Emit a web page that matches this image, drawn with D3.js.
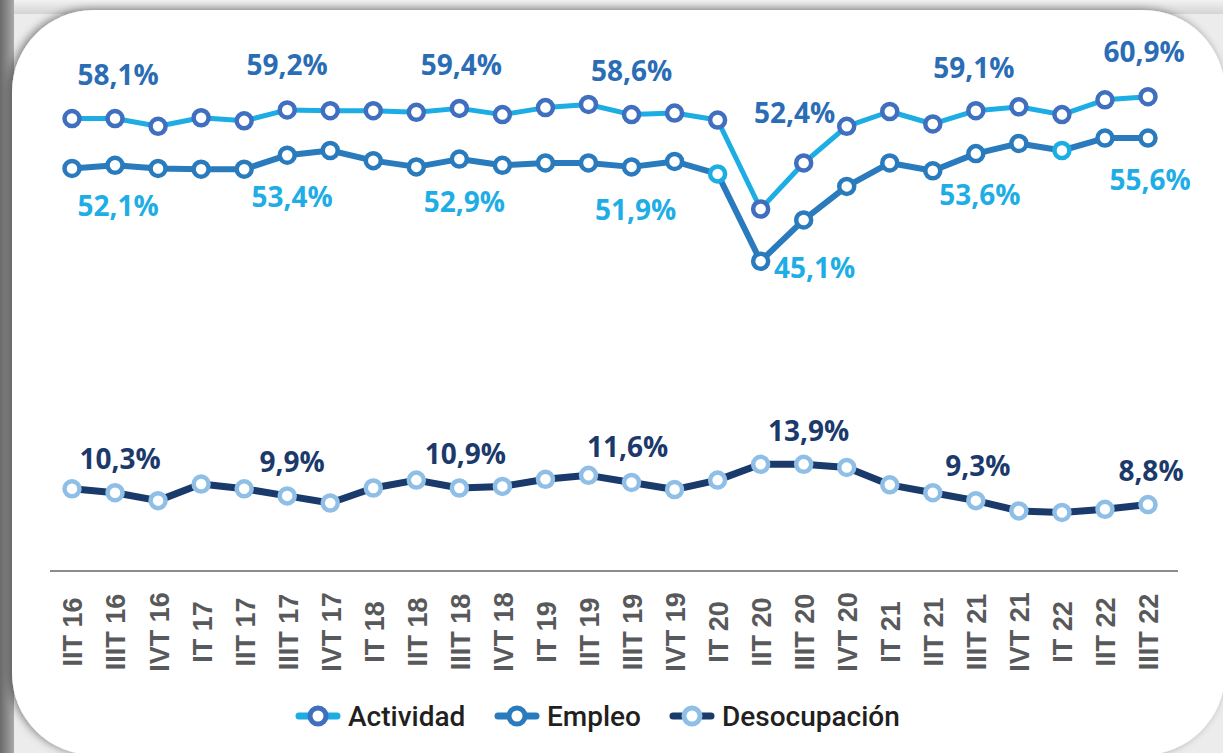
<!DOCTYPE html>
<html>
<head>
<meta charset="utf-8">
<script src="https://cdn.jsdelivr.net/npm/d3@7"></script>
<style>
  html, body { margin: 0; padding: 0; background: #ececec; }
  svg { display: block; }
</style>
</head>
<body>
<div id="chart"></div>
<script>
'use strict';

// trimestres
var categories = ['IIT 16', 'IIIT 16', 'IVT 16', 'IT 17', 'IIT 17', 'IIIT 17', 'IVT 17',
    'IT 18', 'IIT 18', 'IIIT 18', 'IVT 18', 'IT 19', 'IIT 19', 'IIIT 19', 'IVT 19',
    'IT 20', 'IIT 20', 'IIIT 20', 'IVT 20', 'IT 21', 'IIT 21', 'IIIT 21', 'IVT 21',
    'IT 22', 'IIT 22', 'IIIT 22'];

// tasas (%)
var actividad = [58.1, 58.1, 57.1, 58.2, 57.8, 59.2, 59.1, 59.1, 58.9, 59.4, 58.6, 59.5, 59.9,
    58.6, 58.8, 57.9, 46.5, 52.4, 57.1, 59.0, 57.4, 59.1, 59.6, 58.6, 60.5, 60.9];
var empleo = [51.7, 52.1, 51.7, 51.6, 51.6, 53.4, 54.0, 52.7, 51.9, 52.9, 52.1, 52.4, 52.4,
    51.9, 52.6, 51.0, 39.8, 45.1, 49.4, 52.4, 51.4, 53.6, 54.9, 54.0, 55.6, 55.6];
var desocupacion = [10.8, 10.3, 9.3, 11.4, 10.8, 9.9, 9.0, 10.9, 11.9, 10.9, 11.1, 12.0, 12.5,
    11.6, 10.7, 11.9, 13.9, 13.9, 13.5, 11.3, 10.3, 9.3, 8.0, 7.8, 8.2, 8.8];

// trimestres con etiqueta (tercer trimestre de cada año)
var labelled = ['IIIT 16', 'IIIT 17', 'IIIT 18', 'IIIT 19', 'IIIT 20', 'IIIT 21', 'IIIT 22'];
// puntos de empleo con anillo celeste
var empleoHighlight = ['IT 20', 'IT 22'];

var legendNames = ['Actividad', 'Empleo', 'Desocupación'];

var width = 1223,
    height = 753;

var colors = {
    actLine: '#1cade4',
    actRing: '#3f6fbe',
    actText: '#2a6db5',
    empLine: '#2a7bbd',
    empText: '#1fade6',
    desLine: '#193a6b',
    desRing: '#8fbfe6',
    desText: '#1b3a6b'
};

var svg = d3.select('#chart').append('svg')
    .attr('width', width)
    .attr('height', height);

var defs = svg.append('defs');

var leftGrad = defs.append('linearGradient').attr('id', 'leftGrad')
    .attr('x1', 0).attr('x2', 1).attr('y1', 0).attr('y2', 0);
leftGrad.append('stop').attr('offset', '0%').attr('stop-color', '#6a6a6a');
leftGrad.append('stop').attr('offset', '100%').attr('stop-color', '#a9a9a9');

var topGrad = defs.append('linearGradient').attr('id', 'topGrad')
    .attr('x1', 0).attr('x2', 0).attr('y1', 0).attr('y2', 1);
topGrad.append('stop').attr('offset', '0%').attr('stop-color', '#f2f2f2');
topGrad.append('stop').attr('offset', '100%').attr('stop-color', '#d4d4d4');

var shadow = defs.append('filter').attr('id', 'cardShadow')
    .attr('x', '-5%').attr('y', '-5%').attr('width', '110%').attr('height', '110%');
shadow.append('feDropShadow')
    .attr('dx', -3).attr('dy', -1)
    .attr('stdDeviation', 4)
    .attr('flood-color', '#000')
    .attr('flood-opacity', 0.45);

// fondo y tarjeta
svg.append('rect').attr('width', width).attr('height', height).attr('fill', '#ececec');
svg.append('rect').attr('width', width).attr('height', 14).attr('fill', 'url(#topGrad)');
svg.append('rect').attr('width', 14).attr('height', height).attr('fill', 'url(#leftGrad)');

svg.append('rect')
    .attr('x', 12).attr('y', 10)
    .attr('width', 1213).attr('height', 745)
    .attr('rx', 82).attr('ry', 82)
    .attr('fill', '#fff')
    .attr('filter', 'url(#cardShadow)');

var x = d3.scalePoint()
    .domain(categories)
    .range([72, 1148]);

var yTop = d3.scaleLinear()
    .domain([38, 62])
    .range([275.3, 88.1]);

var yBottom = d3.scaleLinear()
    .domain([6, 16])
    .range([526.7, 447.7]);

// eje x
svg.append('line')
    .attr('x1', 50).attr('x2', 1178)
    .attr('y1', 571).attr('y2', 571)
    .attr('stroke', '#8c8c8c')
    .attr('stroke-width', 2);

svg.append('g').attr('class', 'x-labels')
    .selectAll('text')
    .data(categories)
    .enter().append('text')
    .attr('transform', function (d) {
        return 'translate(' + (x(d) + 1) + ',632) rotate(-90)';
    })
    .attr('text-anchor', 'middle')
    .attr('dy', '0.35em')
    .style('font-family', '"Liberation Sans", Arial, sans-serif')
    .style('font-weight', 'bold')
    .style('font-size', '27px')
    .style('fill', '#58595b')
    .text(function (d) { return d; });

function drawSeries(values, yScale, lineColor, lineWidth, ringColor) {
    var pts = categories.map(function (c, i) { return { cat: c, v: values[i] }; });
    var line = d3.line()
        .x(function (d) { return x(d.cat); })
        .y(function (d) { return yScale(d.v); });

    var g = svg.append('g');
    g.append('path')
        .datum(pts)
        .attr('d', line)
        .attr('fill', 'none')
        .attr('stroke', lineColor)
        .attr('stroke-width', lineWidth)
        .attr('stroke-linejoin', 'round');

    g.selectAll('circle')
        .data(pts)
        .enter().append('circle')
        .attr('cx', function (d) { return x(d.cat); })
        .attr('cy', function (d) { return yScale(d.v); })
        .attr('r', 7.5)
        .attr('fill', '#fff')
        .attr('stroke', function (d) { return typeof ringColor === 'function' ? ringColor(d) : ringColor; })
        .attr('stroke-width', 4.5);
    return pts;
}

drawSeries(actividad, yTop, colors.actLine, 5, colors.actRing);
drawSeries(empleo, yTop, colors.empLine, 6, function (d) {
    return empleoHighlight.indexOf(d.cat) >= 0 ? colors.actLine : colors.empLine;
});
drawSeries(desocupacion, yBottom, colors.desLine, 7, colors.desRing);

function fmt(v) {
    return v.toFixed(1).replace('.', ',') + '%';
}

// etiquetas de valores; desplazamientos en px respecto del punto
function drawLabels(values, yScale, color, dxs, dys) {
    svg.append('g')
        .selectAll('text')
        .data(labelled)
        .enter().append('text')
        .attr('x', function (d, i) { return x(d) + dxs[i]; })
        .attr('y', function (d, i) { return yScale(values[categories.indexOf(d)]) + dys[i]; })
        .attr('text-anchor', 'middle')
        .style('font-family', '"Open Sans", "Noto Sans", sans-serif')
        .style('font-weight', 'bold')
        .style('font-size', '28px')
        .style('fill', color)
        .text(function (d) { return fmt(values[categories.indexOf(d)]); });
}

drawLabels(actividad, yTop, colors.actText,
    [3, 0, 2, 0, -9, -2, -4], [-34, -35, -33, -34, -40, -33, -35]);
drawLabels(empleo, yTop, colors.empText,
    [3, 5, 5, 4, 11, 4, 2], [51, 52, 53, 53, 58, 51, 52]);
drawLabels(desocupacion, yBottom, colors.desText,
    [5, 5, 6, -4, 5, 2, 3], [-24, -24, -24, -25, -23, -25, -24]);

// leyenda
var legend = svg.append('g').attr('class', 'legend');
var legendX = [318, 517, 692];
var legendStyle = [
    { line: colors.actLine, ring: colors.actRing },
    { line: colors.empLine, ring: colors.empLine },
    { line: colors.desLine, ring: colors.desRing }
];

var item = legend.selectAll('g')
    .data(legendNames)
    .enter().append('g')
    .attr('transform', function (d, i) { return 'translate(' + legendX[i] + ',716)'; });

item.append('line')
    .attr('x1', -19).attr('x2', 19)
    .attr('stroke', function (d, i) { return legendStyle[i].line; })
    .attr('stroke-width', 7)
    .attr('stroke-linecap', 'round');

item.append('circle')
    .attr('r', 8)
    .attr('fill', '#fff')
    .attr('stroke', function (d, i) { return legendStyle[i].ring; })
    .attr('stroke-width', 5);

item.append('text')
    .attr('x', 30)
    .attr('y', 10)
    .style('font-family', 'Roboto, sans-serif')
    .style('font-weight', 500)
    .style('font-size', '28px')
    .style('fill', '#231f20')
    .text(function (d) { return d; });
</script>
</body>
</html>
